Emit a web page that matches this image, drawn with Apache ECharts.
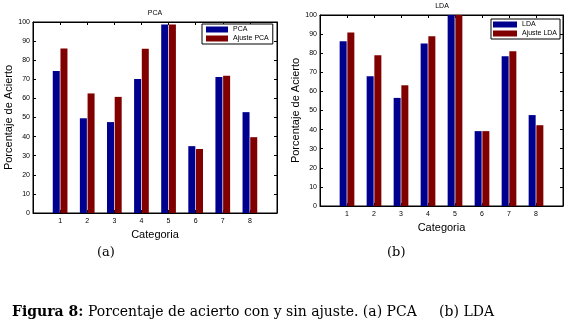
<!DOCTYPE html>
<html><head><meta charset="utf-8">
<script src="https://cdn.jsdelivr.net/npm/echarts@6/dist/echarts.min.js"></script>
<style>html,body{margin:0;padding:0;background:#fff}#c{width:576px;height:333px}</style>
</head><body><div id="c"></div>
<script>
const categories = ['1','2','3','4','5','6','7','8'];
const yTicks = [0,10,20,30,40,50,60,70,80,90,100];
const pca = [74.3, 49.6, 47.6, 70.1, 98.7, 35.0, 71.2, 52.8];
const ajustePca = [86.1, 62.6, 60.8, 86.0, 98.7, 33.5, 71.8, 39.7];
const lda = [86.2, 67.9, 56.6, 85.1, 100, 39.2, 78.4, 47.6];
const ajusteLda = [90.9, 78.9, 63.2, 88.9, 100, 39.2, 81.0, 42.3];

const axisCats = [''].concat(categories, ['']);
const pad = v => [null].concat(v, [null]);
const BLUE = '#00008F', RED = '#800000';
const SANS = 'Liberation Sans, Arial, sans-serif';
const SERIF = 'DejaVu Serif, serif';

const grids = [
  {left: 33, top: 22, width: 244, height: 191},
  {left: 320, top: 15, width: 243, height: 191}
];
const xNameGap = [12, 14], yNameGap = [11, 13];
const xAxes = [], yAxes = [];
grids.forEach((g, i) => {
  xAxes.push({type:'category', gridIndex:i, data:axisCats, boundaryGap:false,
    axisLine:{onZero:false, lineStyle:{color:'#000',width:1}}, axisTick:{inside:true,length:3,lineStyle:{color:'#000'}},
    axisLabel:{fontSize:7, color:'#000', fontFamily:SANS, margin:5},
    name:'Categoria', nameLocation:'middle', nameGap:xNameGap[i],
    nameTextStyle:{fontSize:11, color:'#000', fontFamily:SANS}, splitLine:{show:false}});
  xAxes.push({type:'category', gridIndex:i, position:'top', data:axisCats, boundaryGap:false,
    axisLine:{onZero:false, lineStyle:{color:'#000'}}, axisTick:{inside:true,length:3,lineStyle:{color:'#000'}},
    axisLabel:{show:false}, splitLine:{show:false}});
  yAxes.push({type:'value', gridIndex:i, min:yTicks[0], max:yTicks[yTicks.length-1], interval:10,
    axisLine:{show:true,onZero:false,lineStyle:{color:'#000'}}, axisTick:{show:true,inside:true,length:3,lineStyle:{color:'#000'}},
    axisLabel:{fontSize:7,color:'#000',fontFamily:SANS,margin:3}, splitLine:{show:false},
    name:'Porcentaje de Acierto', nameLocation:'middle', nameGap:yNameGap[i],
    nameTextStyle:{fontSize:11,color:'#000',fontFamily:SANS}});
  yAxes.push({type:'value', gridIndex:i, position:'right', min:yTicks[0], max:yTicks[yTicks.length-1], interval:10,
    axisLine:{show:true,onZero:false,lineStyle:{color:'#000'}}, axisTick:{show:true,inside:true,length:3,lineStyle:{color:'#000'}},
    axisLabel:{show:false}, splitLine:{show:false}});
});

function bar(name, data, color, gi) {
  return {type:'bar', name, data:pad(data), xAxisIndex:gi*2, yAxisIndex:gi*2,
    barWidth:7, barGap:'10%', itemStyle:{color}, animation:false};
}

const option = {
  animation:false,
  title:[
    {text:'PCA', left:155, top:10, padding:0, textAlign:'center', textStyle:{fontSize:7,fontWeight:'normal',color:'#000',fontFamily:SANS}},
    {text:'LDA', left:442, top:3, padding:0, textAlign:'center', textStyle:{fontSize:7,fontWeight:'normal',color:'#000',fontFamily:SANS}}
  ],
  grid: grids.map(g => Object.assign({show:true, borderColor:'#000', borderWidth:1, backgroundColor:'#fff'}, g)),
  xAxis: xAxes, yAxis: yAxes,
  legend:[
    {data:['PCA','Ajuste PCA'], orient:'vertical', left:202, top:24, itemWidth:22, itemHeight:6, itemGap:2,
     padding:[2,4,2,4], borderColor:'#000', borderWidth:1, backgroundColor:'#fff', icon:'rect',
     textStyle:{fontSize:7,color:'#000',fontFamily:SANS}},
    {data:['LDA','Ajuste LDA'], orient:'vertical', left:491, top:19, itemWidth:24, itemHeight:6, itemGap:2,
     padding:[2,3,2,2], borderColor:'#000', borderWidth:1, backgroundColor:'#fff', icon:'rect',
     textStyle:{fontSize:7,color:'#000',fontFamily:SANS}}
  ],
  series:[
    bar('PCA', pca, BLUE, 0), bar('Ajuste PCA', ajustePca, RED, 0),
    bar('LDA', lda, BLUE, 1), bar('Ajuste LDA', ajusteLda, RED, 1)
  ],
  graphic:[
    {type:'text', left:97, top:246, style:{text:'(a)', font:'13px '+SERIF, fill:'#000'}},
    {type:'text', left:387, top:246, style:{text:'(b)', font:'13px '+SERIF, fill:'#000'}},
    {type:'text', left:12, top:305, style:{
      text:'{b|Figura 8:} Porcentaje de acierto con y sin ajuste. (a) PCA     (b) LDA',
      fill:'#000', font:'14px '+SERIF,
      rich:{b:{fontWeight:'bold', fontSize:14, fontFamily:SERIF, fill:'#000'}}}}
  ]
};
const chart = echarts.init(document.getElementById('c'), null, {renderer:'canvas'});
chart.setOption(option);
</script></body></html>
